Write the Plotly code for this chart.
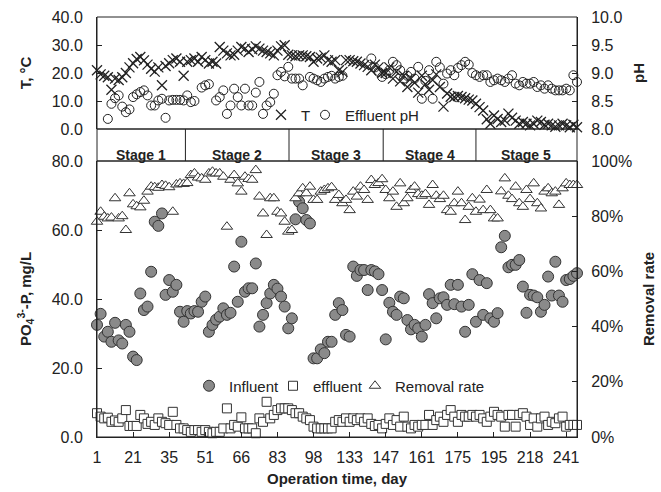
import plotly.graph_objects as go

# ---------------- data ----------------
day_labels = ["1", "21", "35", "51", "66", "83", "98", "133", "147", "161", "175", "195", "218", "241"]
label_every = 10  # one day label every 10 samples

temperature = [21, 19.5, 19, 18.5, 14, 18, 17.5, 18.5, 20, 22,
               23.5, 25, 25.7, 24.5, 23, 21.5, 20.5, 22, 15.6, 22.5,
               23.5, 24.6, 25.2, 24, 19, 24, 24.6, 25.2, 24, 25.7,
               24.6, 23.4, 24, 23.4, 29.3, 28, 27, 26.3, 26.5, 28,
               29.3, 28.7, 27.5, 28.5, 29.5, 28.7, 28, 27.5, 27, 26.3,
               28, 29.5, 29.9, 26.5, 26.3, 26, 26.3, 26.3, 26, 25.7,
               24, 25.2, 25.5, 26.3, 24.5, 24, 24.6, 21, 20.4, 24.6,
               24.6, 24.2, 24, 23.4, 22.8, 22.2, 21, 23, 22, 20,
               20, 22, 18, 20.5, 17, 19, 15, 18, 16.5, 13,
               19, 16, 14, 17.5, 19.5, 15, 8, 12.7, 11.5, 11.4,
               11.8, 11.4, 11, 10.5, 10.2, 9, 7.8, 6.6, 3.5, 1.9,
               4.8, 3.6, 2.5, 3, 5.5, 4, 3, 1.9, 2.5, 1.9,
               1.3, 1.9, 3, 2.5, 1.5, 1.9, 1.3, 0.8, 1.3, 1.9,
               1.3, 0.6, 1.5, 0.6]

effluent_ph = [None, None, None, 8.18, 8.45, 8.55, 8.6, 8.4, 8.3, 8.35,
               8.57, 8.62, 8.66, 8.69, 8.6, 8.42, 8.42, 8.51, 8.54, 8.2,
               8.51, 8.52, 8.52, 8.52, 8.51, 8.6, 8.48, 8.5, None, 8.74,
               8.78, 8.8, None, 8.51, 8.57, 8.69, 8.27, 8.42, 8.72, 8.57,
               8.42, 8.72, 8.42, 8.42, 8.65, 8.84, 8.27, 8.42, 8.48, 8.63,
               8.96, 9.02, 8.94, 9.11, 8.9, 8.9, 8.9, 8.78, None, 8.93,
               8.9, 8.87, 8.84, 8.9, 8.93, 8.95, 8.9, 8.93, 8.95, None,
               None, None, None, None, None, None, 9.26, 9.1, 9.02, 8.93,
               8.98, 9.05, 9.2, 9.14, 9.05, 8.9, 8.95, 9.02, 8.9, 9.11,
               8.54, 8.86, 9.05, 8.54, 9.2, 9.1, 8.81, 8.99, 9.05, 8.96,
               9.09, 9.14, 9.2, 9.15, 9.0, 8.96, 8.93, 8.96, 8.96, 8.84,
               8.87, 8.9, 8.87, 8.84, 8.9, 8.96, 8.81, 8.78, 8.84, 8.81,
               8.81, 8.84, 8.75, 8.78, 8.72, 8.78, 8.72, 8.69, 8.69, 8.69,
               8.72, 8.69, 8.96, 8.84]

influent = [32.5, 35.7, 29.1, 30.5, 27.6, 33.1, 28, 27.1, 32.5, 30.5,
            23.3, 22.3, 41.6, 36.8, 37.8, 47.9, 62.4, 61.2, 64.8, 41.2,
            45.5, 42.1, 44.1, 36.3, 33.4, 36.5, 35.8, 36.5, 36.3, 39.2,
            40.7, 30.5, 32.5, 34, 34.9, 37.3, 35.4, 36, 49.4, 39.2,
            56.6, 42.1, 43.1, 43.1, 50.3, 32, 35.4, 38.8, 41.6, 44.1,
            43, 40.7, 37.8, 31.5, 34.4, 63.1, 68.2, 66.3, 62.9, 61.9,
            22.8, 22.8, 25.4, 24.3, 27.6, 27.6, 35.4, 38.8, 36.8, 29.6,
            29.1, 49.4, 46.7, 48.4, 48.4, 42.6, 48.4, 48, 47.2, 42.6,
            28.3, 38.9, 36.3, 35.4, 40.7, 40.2, 33.9, 31.2, 32.5, 31.5,
            29.1, 32.5, 41.4, 38.8, 34.4, 40.2, 40.5, 38.3, 44.1, 38.5,
            44.1, 37.8, 30.5, 38.3, 47.2, 33.4, 45.5, 35.4, 44.6, 34.4,
            33.4, 35.9, 55, 58.3, 49.2, 49.9, 49.9, 51.3, 43.6, 36,
            41.2, 41, 40.5, 36.3, 38.3, 46.5, 41, 50.8, 41, 39.2,
            45.5, 45.8, 46.7, 47.5]

effluent = [6.9, 5.9, 5.4, 5.6, 4.4, 4.8, 4.4, 5.4, 7.8, 3.2,
            3.2, 3.2, 6.4, 5.4, 3.8, 4.4, 3.5, 5.4, 4.4, 4,
            3.5, 7.3, 3.5, 2.5, 2.5, 2, 1.5, 2, 2, 1.5,
            2, 1.5, 1.1, 1.5, 1.5, 2.5, 8.3, 2.5, 3.5, 3,
            5.7, 2.5, 2.5, 2.5, 1.1, 5.4, 4.4, 10.2, 5.4, 6.4,
            7.8, 8.3, 8.3, 8.3, 7.8, 6.9, 6.9, 5.9, 5.4, 4.9,
            3, 2.5, 2.5, 2.5, 2.5, 2.5, 4.4, 4.9, 4.4, 5.4,
            4.4, 5.4, 4.9, 5.4, 4.4, 5.4, 3.8, 3.2, 3.5, 2.5,
            3.8, 5.4, 3.5, 4.9, 3, 5.9, 3, 2.5, 3.5, 3,
            3.5, 3.5, 6.4, 3.5, 4.9, 5.9, 4.4, 6.4, 7.8, 5.9,
            4.4, 6.4, 5.9, 5.9, 6.4, 5.9, 6.4, 5.4, 4.4, 5.9,
            7.3, 6.4, 5.9, 3, 6.4, 6.4, 3, 6.4, 6.9, 5.9,
            3.5, 5.4, 3, 5.4, 5.9, 3.5, 4.4, 4, 5.4, 5.9,
            3, 3.5, 3.5, 3.5]

removal_rate = [78, 81.6, 79.8, 79.2, 79.5, 86.5, 79.2, 80, 75, 88.3,
                84.3, 83.6, 83.2, 85.6, 88.9, 90.7, 90.5, 90.3, 91.3, 91,
                90.5, 81.6, 91.5, 91.9, 91.7, 92, 94.9, 95.5, 94, 93.7,
                93.2, 95.5, 96.1, 95.5, 95.5, 94.3, 76.2, 93.2, 94.9, 91.9,
                88.9, 94.3, 93.5, 93.2, 96.7, 87.1, 81, 73.2, 86.5, 86.5,
                81.6, 81, 78, 74.4, 75, 86.5, 88.3, 90.1, 88.3, 90.7,
                85.9, 85.9, 88.9, 89.5, 90.1, 90.5, 85.9, 87.7, 84.7, 85.9,
                82.2, 88.9, 87.1, 90.7, 89.5, 85.9, 93.1, 91.3, 92, 93.4,
                89.5, 86.5, 88.9, 83.4, 91.9, 84.7, 86.5, 89.5, 90.7, 88,
                87.4, 88, 84.1, 91.3, 87.4, 86.2, 87.4, 82.2, 81.6, 84.7,
                88.9, 84.7, 78.6, 83.4, 86.5, 81.6, 86, 82.2, 89.5, 82.2,
                79.2, 79.2, 89, 93.7, 87.4, 86.2, 90.7, 84.7, 83.4, 89.5,
                86.2, 91.9, 84.7, 82.8, 88.9, 90.1, 88.3, 88.9, 84.1, 90.1,
                91.9, 91.3, 91.3, 91.3]

stage_names = ["Stage 1", "Stage 2", "Stage 3", "Stage 4", "Stage 5"]
stage_bounds = [24.5, 53.2, 79.3, 105.0]  # sample positions of stage dividers

# ---------------- figure ----------------
FONT = "Liberation Sans, Arial, sans-serif"
INK = "#222222"
samples = list(range(len(influent)))
last = samples[-1]
tickvals = [k * label_every for k in range(len(day_labels))]

top_h, band_h, bot_h = 112, 32, 276
total_h = top_h + band_h + bot_h
d1 = bot_h / total_h
d2 = (bot_h + band_h) / total_h
plot_w = 480

fig = go.Figure()
fig.add_trace(go.Scatter(
    x=samples, y=influent, mode="markers", name="Influent", legend="legend",
    xaxis="x", yaxis="y", cliponaxis=False, showlegend=True,
    marker=dict(symbol="circle", size=11, color="#8a8a8a", line=dict(color="#333333", width=1))))
fig.add_trace(go.Scatter(
    x=samples, y=effluent, mode="markers", name="effluent", legend="legend2",
    xaxis="x", yaxis="y", cliponaxis=False,
    marker=dict(symbol="square", size=9, color="white", line=dict(color="#333333", width=1))))
fig.add_trace(go.Scatter(
    x=samples, y=removal_rate, mode="markers", name="Removal rate", legend="legend3",
    xaxis="x", yaxis="y2", cliponaxis=False,
    marker=dict(symbol="triangle-up", size=10, color="white", line=dict(color="#333333", width=1))))
fig.add_trace(go.Scatter(
    x=samples, y=temperature, mode="markers", name="T", legend="legend4",
    xaxis="x2", yaxis="y3", cliponaxis=False,
    marker=dict(symbol="x-thin", size=10, color=INK, line=dict(color=INK, width=1.3))))
fig.add_trace(go.Scatter(
    x=samples, y=effluent_ph, mode="markers", name="Effluent pH", legend="legend5",
    xaxis="x2", yaxis="y4", cliponaxis=False,
    marker=dict(symbol="circle-open", size=9, color=INK, line=dict(color=INK, width=1))))

tickfont = dict(family=FONT, size=16, color=INK)
titlefont = dict(family=FONT, size=15, color=INK)
common_y = dict(showgrid=False, zeroline=False, showline=True, linecolor=INK, linewidth=1,
                ticks="inside", ticklen=5, tickcolor=INK, tickfont=tickfont, automargin=False,
                ticklabelstandoff=10)

shapes = [
    dict(type="rect", xref="paper", yref="paper", x0=0, x1=1, y0=0, y1=d1,
         line=dict(color=INK, width=1)),
    dict(type="rect", xref="paper", yref="paper", x0=0, x1=1, y0=d1, y1=d2,
         line=dict(color=INK, width=1)),
    dict(type="rect", xref="paper", yref="paper", x0=0, x1=1, y0=d2, y1=1,
         line=dict(color=INK, width=1)),
]
for b in stage_bounds:
    shapes.append(dict(type="line", xref="x", yref="paper", x0=b, x1=b, y0=d1, y1=d2,
                       line=dict(color=INK, width=1)))

edges = [0] + stage_bounds + [last]
annotations = []
for k, name in enumerate(stage_names):
    annotations.append(dict(x=(edges[k] + edges[k + 1]) / 2, xref="x",
                            y=(d1 + d2) / 2, yref="paper", text="<b>%s</b>" % name,
                            showarrow=False, font=dict(family=FONT, size=14, color=INK)))


def legend_at(symbol_px, row_px):
    # symbol_px: pixel x of the legend symbol inside the plot area; row_px: pixel y from plot top
    return dict(orientation="h", x=(symbol_px - 20) / plot_w, y=1 - row_px / total_h,
                xanchor="left", yanchor="middle", bgcolor="rgba(0,0,0,0)",
                font=dict(family=FONT, size=15, color=INK), itemwidth=30, visible=True)


fig.update_layout(
    width=661, height=492,
    margin=dict(l=97, r=84, t=17, b=55),
    paper_bgcolor="white", plot_bgcolor="white",
    font=dict(family=FONT, color=INK),
    showlegend=True,
    xaxis=dict(domain=[0, 1], anchor="y", range=[0, last], showgrid=False, zeroline=False,
               showline=True, linecolor=INK, linewidth=1, ticks="inside", ticklen=5,
               tickcolor=INK, tickmode="array", tickvals=tickvals, ticktext=day_labels,
               tickfont=tickfont, ticklabelstandoff=6, automargin=False,
               title=dict(text="<b>Operation time, day</b>", font=titlefont, standoff=8)),
    yaxis=dict(domain=[0, d1], anchor="x", range=[0, 80], dtick=20, tickformat=".1f",
               title=dict(text="<b>PO<sub>4</sub><sup>3-</sup>-P, mg/L</b>", font=titlefont, standoff=16),
               **common_y),
    yaxis2=dict(overlaying="y", side="right", anchor="x", range=[0, 100], dtick=20,
                ticksuffix="%", title=dict(text="<b>Removal rate</b>", font=titlefont, standoff=12),
                **common_y),
    xaxis2=dict(domain=[0, 1], anchor="y3", matches="x", showticklabels=False, ticks="",
                showgrid=False, zeroline=False, showline=False),
    yaxis3=dict(domain=[d2, 1], anchor="x2", range=[0, 40], dtick=10, tickformat=".1f",
                title=dict(text="<b>T, °C</b>", font=titlefont, standoff=16), **common_y),
    yaxis4=dict(overlaying="y3", side="right", anchor="x2", range=[8, 10], dtick=0.5,
                tickformat=".1f", title=dict(text="<b>pH</b>", font=titlefont, standoff=12),
                **common_y),
    legend=legend_at(112, 369),
    legend2=legend_at(196, 369),
    legend3=legend_at(278, 369),
    legend4=legend_at(184, 98),
    legend5=legend_at(228, 98),
    shapes=shapes, annotations=annotations,
)

fig.write_html("out.html")
